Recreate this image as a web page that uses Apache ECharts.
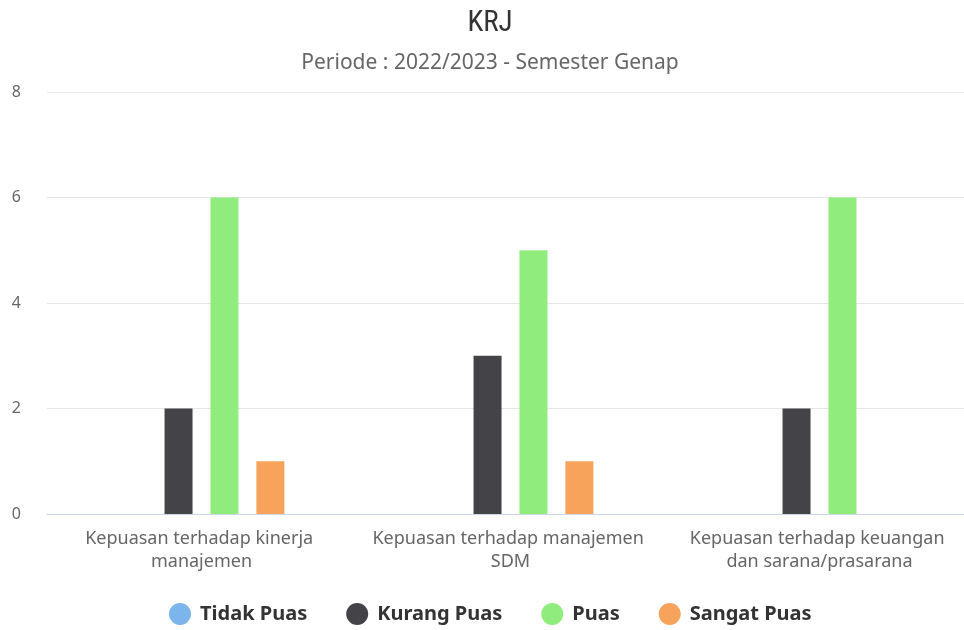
<!DOCTYPE html>
<html>
<head>
<meta charset="utf-8">
<script src="https://cdn.jsdelivr.net/npm/echarts@6/dist/echarts.min.js"></script>
<style>
  html, body { margin: 0; padding: 0; background: #fff; }
  #chart { width: 964px; height: 630px; }
</style>
</head>
<body>
<div id="chart"></div>
<script>
  // data
  var categories = [
    'Kepuasan terhadap kinerja manajemen',
    'Kepuasan terhadap manajemen SDM',
    'Kepuasan terhadap keuangan dan sarana/prasarana'
  ];
  var tidakPuas = [0, 0, 0];
  var kurangPuas = [2, 3, 2];
  var puas = [6, 5, 6];
  var sangatPuas = [1, 1, 0];
  var yTicks = [0, 2, 4, 6, 8];

  var font = '"Noto Sans", "Open Sans", sans-serif';
  var chart = echarts.init(document.getElementById('chart'));

  function bar(name, data, color) {
    return {
      name: name,
      type: 'bar',
      data: data,
      barWidth: 28,
      barGap: '64%',
      itemStyle: { color: color }
    };
  }

  chart.setOption({
    animation: false,
    title: {
      text: 'KRJ',
      subtext: 'Periode : 2022/2023 - Semester Genap',
      left: 485,
      textAlign: 'center',
      top: 4,
      itemGap: 15,
      textStyle: { fontFamily: '"Liberation Sans Narrow", "Roboto Condensed", Roboto, sans-serif', fontSize: 29, fontWeight: 'normal', color: '#333' },
      subtextStyle: { fontFamily: font, fontSize: 21, color: '#666' }
    },
    legend: {
      left: 164,
      bottom: 0,
      icon: 'circle',
      itemWidth: 22,
      itemHeight: 22,
      itemGap: 39,
      textStyle: { fontFamily: font, fontSize: 20, fontWeight: 'bold', color: '#333', padding: [0, 0, 0, 4] },
      data: ['Tidak Puas', 'Kurang Puas', 'Puas', 'Sangat Puas']
    },
    grid: { left: 47, width: 927, top: 92, bottom: 116, outerBoundsMode: 'none' },
    xAxis: {
      type: 'category',
      data: categories,
      axisTick: { show: false },
      axisLine: { lineStyle: { color: '#ccd6eb' } },
      axisLabel: {
        fontFamily: font, fontSize: 18, color: '#666', lineHeight: 23,
        width: 280, overflow: 'break', margin: 13, interval: 0
      }
    },
    yAxis: {
      type: 'value',
      min: yTicks[0],
      max: yTicks[yTicks.length - 1],
      interval: 2,
      axisLabel: { fontFamily: font, fontSize: 16, color: '#666', margin: 26 },
      splitLine: { lineStyle: { color: '#e6e6e6' } }
    },
    series: [
      bar('Tidak Puas', tidakPuas, '#7cb5ec'),
      bar('Kurang Puas', kurangPuas, '#434348'),
      bar('Puas', puas, '#90ed7d'),
      bar('Sangat Puas', sangatPuas, '#f7a35c')
    ]
  });
</script>
</body>
</html>
